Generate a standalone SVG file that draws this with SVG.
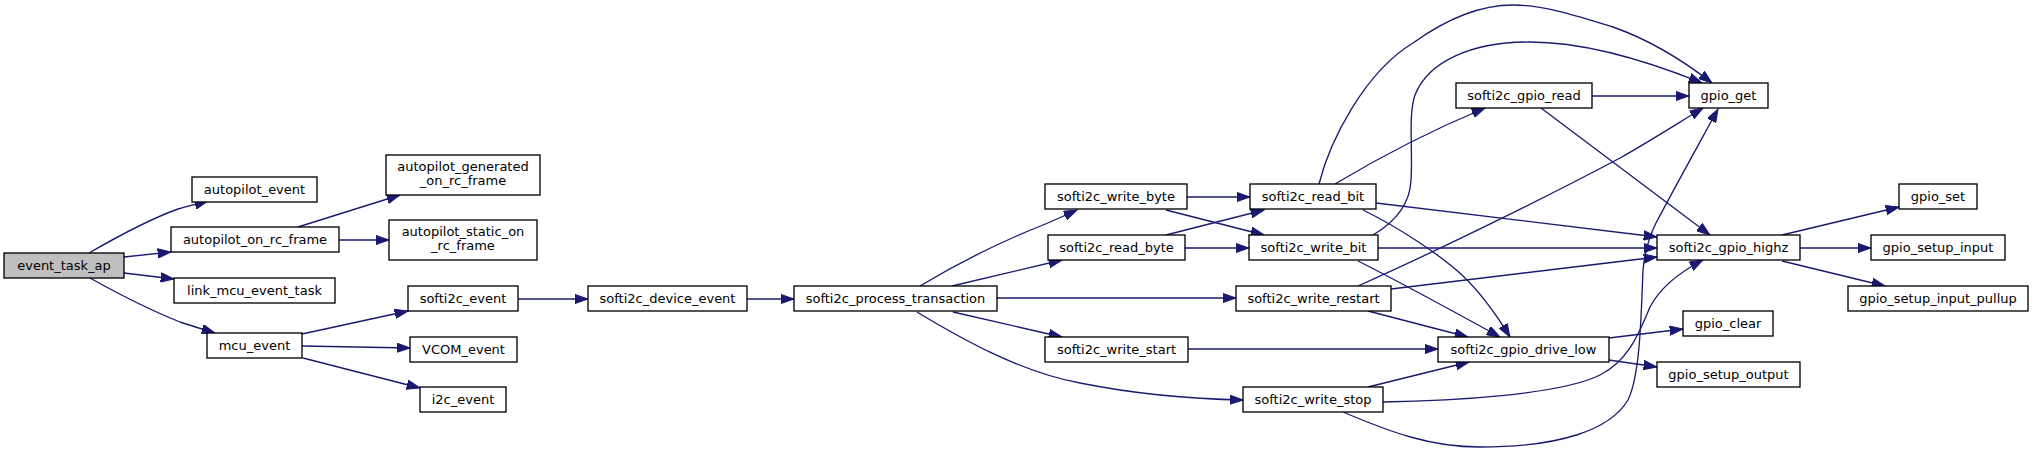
<svg xmlns="http://www.w3.org/2000/svg" width="2033" height="452" viewBox="0 0 2033 452">
<style>
.node rect{fill:#ffffff;stroke:#000000;stroke-width:1.33}
.root rect{fill:#bfbfbf}
text{font-family:"DejaVu Sans","Noto Sans",sans-serif;font-size:13px;text-anchor:middle;fill:#000000}
#edges path{fill:none;stroke:#191970;stroke-width:1.33;marker-end:url(#arr)}
</style>
<defs>
<marker id="arr" viewBox="0 0 14 10" refX="13.3" refY="5" markerWidth="14" markerHeight="10" markerUnits="userSpaceOnUse" orient="auto">
<path d="M0,0.3 L13.3,5 L0,9.7 Z" fill="#191970" stroke="#191970" stroke-width="1"/>
</marker>
</defs>
<rect x="0" y="0" width="2033" height="452" fill="#ffffff"/>
<g id="edges">
<path d="M89,253 C115,238 150,219 178,209 C187,206 197,204 208,201"/>
<path d="M124,257 L171,252"/>
<path d="M124,273 L174,279"/>
<path d="M90,278 C115,292 150,310 180,322 C190,325.5 202,329 215,333"/>
<path d="M298,227 L400,195"/>
<path d="M339,240 L389,240"/>
<path d="M302,334 L408,311"/>
<path d="M302,346 L410,348"/>
<path d="M303,358 L420,388"/>
<path d="M518,299 L588,299"/>
<path d="M747,299 L794,299"/>
<path d="M920,286 C960,262 1000,242 1043,225 C1055,220 1066,215 1077,210"/>
<path d="M952,286 L1062,260"/>
<path d="M997,298 L1236,298"/>
<path d="M953,312 L1062,337"/>
<path d="M917,312 C960,338 1020,372 1080,383 C1130,393 1190,399 1243,400"/>
<path d="M1187,197 L1250,197"/>
<path d="M1166,210 L1264,235"/>
<path d="M1166,235 L1264,210"/>
<path d="M1185,248 L1249,248"/>
<path d="M1319,184 C1330,140 1365,72 1413,43 C1445,20 1480,5 1513,5 C1545,5 1580,17 1613,27 C1650,40 1685,62 1712,83"/>
<path d="M1335,184 C1370,163 1420,135 1485,108"/>
<path d="M1376,203 L1657,237"/>
<path d="M1363,210 C1400,228 1440,255 1462,275 C1480,292 1496,314 1510,337"/>
<path d="M1373,235 C1395,222 1410,205 1411,180 C1413,150 1408,115 1415,95 C1428,62 1470,42 1530,42 C1585,42 1645,60 1702,83"/>
<path d="M1378,248 L1657,248"/>
<path d="M1358,261 C1400,282 1460,315 1500,337"/>
<path d="M1358,286 C1450,245 1560,190 1620,158 C1650,141 1675,125 1703,108"/>
<path d="M1391,289 L1657,257"/>
<path d="M1368,311 L1468,337"/>
<path d="M1188,349 L1438,349"/>
<path d="M1368,387 L1469,362"/>
<path d="M1383,402 C1450,401 1560,395 1600,375 C1630,360 1640,330 1650,307 C1660,288 1680,272 1703,260"/>
<path d="M1343,412 C1390,432 1430,447 1480,447 C1560,447 1610,430 1628,400 C1640,375 1641,320 1643,270 C1645,250 1649,237 1656,223 C1675,187 1700,142 1718,109"/>
<path d="M1592,96 L1689,96"/>
<path d="M1541,108 L1710,235"/>
<path d="M1609,338 L1683,329"/>
<path d="M1609,360 L1657,367"/>
<path d="M1782,235 L1899,207"/>
<path d="M1800,248 L1871,248"/>
<path d="M1782,261 L1885,286"/>
</g>
<g id="n0" class="node root"><rect x="4" y="253" width="120" height="25"/><text x="64" y="270">event_task_ap</text></g>
<g id="n1" class="node"><rect x="192" y="177" width="125" height="25"/><text x="254.5" y="194">autopilot_event</text></g>
<g id="n2" class="node"><rect x="171" y="227" width="168" height="25"/><text x="255" y="244">autopilot_on_rc_frame</text></g>
<g id="n3" class="node"><rect x="174" y="278" width="161" height="25"/><text x="254.5" y="295">link_mcu_event_task</text></g>
<g id="n4" class="node"><rect x="207" y="333" width="95" height="25"/><text x="254.5" y="350">mcu_event</text></g>
<g id="n5" class="node"><rect x="386" y="155" width="154" height="40"/><text x="463" y="170.5">autopilot_generated</text><text x="463" y="185">_on_rc_frame</text></g>
<g id="n6" class="node"><rect x="389" y="220" width="148" height="40"/><text x="463" y="235.5">autopilot_static_on</text><text x="463" y="250">_rc_frame</text></g>
<g id="n7" class="node"><rect x="408" y="286" width="110" height="25"/><text x="463" y="303">softi2c_event</text></g>
<g id="n8" class="node"><rect x="410" y="337" width="107" height="25"/><text x="463.5" y="354">VCOM_event</text></g>
<g id="n9" class="node"><rect x="420" y="387" width="86" height="25"/><text x="463" y="404">i2c_event</text></g>
<g id="n10" class="node"><rect x="588" y="286" width="159" height="25"/><text x="667.5" y="303">softi2c_device_event</text></g>
<g id="n11" class="node"><rect x="794" y="286" width="203" height="25"/><text x="895.5" y="303">softi2c_process_transaction</text></g>
<g id="n12" class="node"><rect x="1045" y="184" width="142" height="25"/><text x="1116" y="201">softi2c_write_byte</text></g>
<g id="n13" class="node"><rect x="1048" y="235" width="137" height="25"/><text x="1116.5" y="252">softi2c_read_byte</text></g>
<g id="n14" class="node"><rect x="1236" y="286" width="155" height="25"/><text x="1313.5" y="303">softi2c_write_restart</text></g>
<g id="n15" class="node"><rect x="1045" y="337" width="143" height="25"/><text x="1116.5" y="354">softi2c_write_start</text></g>
<g id="n16" class="node"><rect x="1243" y="387" width="140" height="25"/><text x="1313" y="404">softi2c_write_stop</text></g>
<g id="n17" class="node"><rect x="1250" y="184" width="126" height="25"/><text x="1313" y="201">softi2c_read_bit</text></g>
<g id="n18" class="node"><rect x="1249" y="235" width="129" height="25"/><text x="1313.5" y="252">softi2c_write_bit</text></g>
<g id="n19" class="node"><rect x="1456" y="83" width="136" height="25"/><text x="1524" y="100">softi2c_gpio_read</text></g>
<g id="n20" class="node"><rect x="1438" y="337" width="171" height="25"/><text x="1523.5" y="354">softi2c_gpio_drive_low</text></g>
<g id="n21" class="node"><rect x="1689" y="83" width="79" height="25"/><text x="1728.5" y="100">gpio_get</text></g>
<g id="n22" class="node"><rect x="1657" y="235" width="143" height="25"/><text x="1728.5" y="252">softi2c_gpio_highz</text></g>
<g id="n23" class="node"><rect x="1899" y="184" width="78" height="25"/><text x="1938" y="201">gpio_set</text></g>
<g id="n24" class="node"><rect x="1871" y="235" width="134" height="25"/><text x="1938" y="252">gpio_setup_input</text></g>
<g id="n25" class="node"><rect x="1848" y="286" width="180" height="25"/><text x="1938" y="303">gpio_setup_input_pullup</text></g>
<g id="n26" class="node"><rect x="1683" y="311" width="90" height="25"/><text x="1728" y="328">gpio_clear</text></g>
<g id="n27" class="node"><rect x="1657" y="362" width="143" height="25"/><text x="1728.5" y="379">gpio_setup_output</text></g>
</svg>
